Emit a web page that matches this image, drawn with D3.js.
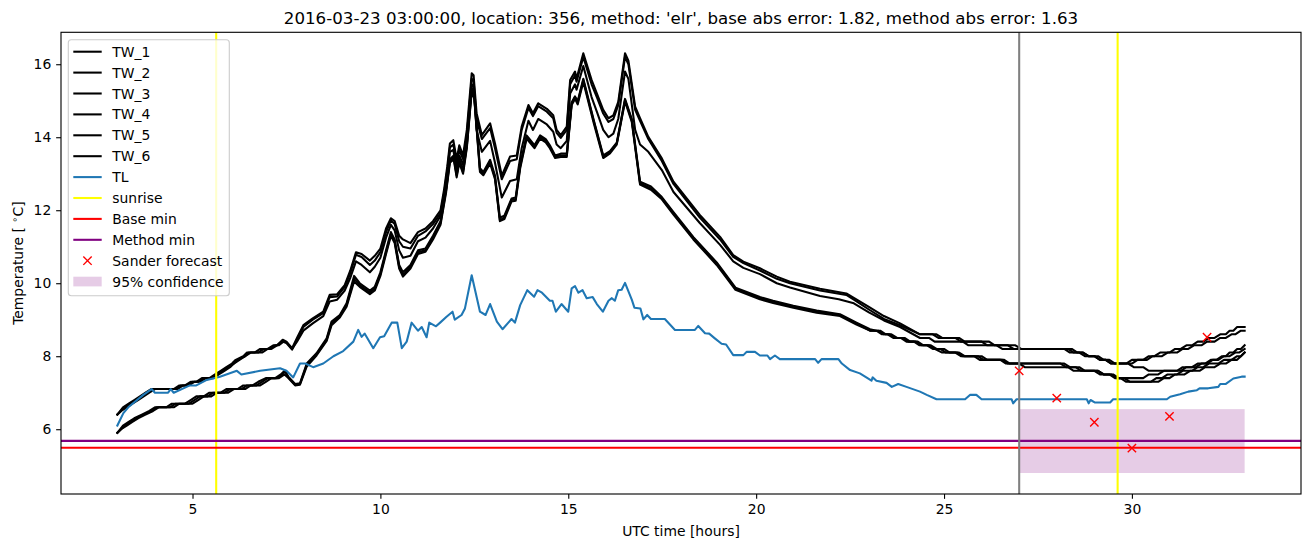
<!DOCTYPE html>
<html><head><meta charset="utf-8">
<script src="https://cdn.jsdelivr.net/npm/d3@7"></script>
<style>
body{margin:0;background:#fff;}
text{font-family:"DejaVu Sans",sans-serif;}
</style></head>
<body><svg id="chart" width="1311" height="547"></svg>
<script>
// ---------------- data ----------------
const titleText = "2016-03-23 03:00:00, location: 356, method: 'elr', base abs error: 1.82, method abs error: 1.63";
const xTicks = [5, 10, 15, 20, 25, 30];
const yTicks = [6, 8, 10, 12, 14, 16];

const TW_1 = [[3.0,6.4],[3.15,6.6],[3.3,6.7],[3.45,6.8],[3.6,6.9],[3.75,7.0],[3.9,7.1],[4.5,7.1],[4.65,7.2],[4.8,7.2],[4.95,7.3],[5.1,7.3],[5.25,7.4],[5.45,7.4],[5.6,7.5],[5.75,7.6],[5.9,7.7],[6.05,7.8],[6.15,7.9],[6.35,8.0],[6.45,8.1],[6.65,8.1],[6.8,8.2],[7.0,8.2],[7.15,8.3],[7.25,8.3],[7.4,8.45],[7.5,8.4],[7.65,8.22],[7.78,8.5],[7.95,8.85],[8.2,9.04],[8.48,9.22],[8.65,9.68],[8.85,9.7],[9.05,9.95],[9.2,10.35],[9.35,10.85],[9.5,10.8],[9.72,10.62],[9.85,10.75],[10.0,10.95],[10.15,11.5],[10.28,11.78],[10.38,11.7],[10.5,11.3],[10.6,11.2],[10.8,11.1],[11.0,11.4],[11.2,11.5],[11.4,11.7],[11.6,12.0],[11.7,12.6],[11.78,13.2],[11.85,13.83],[11.94,13.92],[12.03,13.4],[12.1,13.78],[12.2,13.5],[12.3,14.2],[12.43,15.75],[12.48,15.7],[12.56,14.66],[12.7,14.06],[12.92,14.38],[13.05,13.83],[13.23,12.95],[13.45,13.47],[13.63,13.5],[13.76,14.29],[13.94,14.88],[14.06,14.66],[14.2,14.93],[14.43,14.78],[14.6,14.6],[14.69,14.2],[14.8,14.06],[14.96,14.29],[15.05,15.57],[15.18,15.8],[15.22,15.6],[15.4,16.3],[15.62,15.57],[15.76,15.2],[15.93,14.75],[16.07,14.52],[16.2,14.6],[16.33,14.97],[16.51,16.3],[16.6,16.1],[16.78,14.84],[16.91,14.52],[17.13,14.01],[17.49,13.42],[17.8,12.78],[18.5,11.87],[19.04,11.27],[19.39,10.77],[19.66,10.59],[20.1,10.41],[20.55,10.18],[20.9,10.04],[21.7,9.85],[22.4,9.72],[22.6,9.6],[23.0,9.35],[23.4,9.1],[23.83,8.9],[24.36,8.6],[24.7,8.6],[24.85,8.5],[25.3,8.5],[25.45,8.4],[26.0,8.4],[26.15,8.3],[26.7,8.3],[26.85,8.2],[28.3,8.2],[28.45,8.1],[28.6,8.1],[28.75,8.0],[29.0,8.0],[29.15,7.9],[29.3,7.9],[29.45,7.8],[29.85,7.8],[30.0,7.9],[30.3,7.9],[30.45,8.0],[30.6,8.0],[30.75,8.1],[31.0,8.1],[31.15,8.2],[31.3,8.2],[31.45,8.3],[31.6,8.3],[31.75,8.4],[31.9,8.4],[32.05,8.5],[32.2,8.5],[32.35,8.6],[32.5,8.6],[32.6,8.7],[32.7,8.7],[32.8,8.8],[33.0,8.8]];
const TW_2 = [[3.0,6.4],[3.2,6.6],[3.35,6.7],[3.5,6.8],[3.65,6.9],[3.8,7.0],[3.95,7.1],[4.55,7.1],[4.7,7.2],[4.85,7.2],[5.0,7.3],[5.15,7.3],[5.3,7.4],[5.5,7.4],[5.65,7.5],[5.8,7.6],[5.95,7.7],[6.1,7.8],[6.2,7.9],[6.4,8.0],[6.5,8.1],[6.75,8.1],[6.9,8.2],[7.05,8.2],[7.2,8.3],[7.3,8.3],[7.42,8.4],[7.5,8.36],[7.65,8.18],[7.78,8.45],[7.95,8.8],[8.2,9.0],[8.48,9.18],[8.65,9.62],[8.85,9.64],[9.05,9.9],[9.2,10.28],[9.35,10.78],[9.5,10.72],[9.72,10.5],[9.85,10.62],[10.0,10.85],[10.15,11.4],[10.28,11.72],[10.38,11.62],[10.5,11.15],[10.6,11.0],[10.8,10.95],[11.0,11.3],[11.2,11.42],[11.4,11.62],[11.6,11.92],[11.7,12.5],[11.78,13.1],[11.85,13.72],[11.94,13.8],[12.03,13.3],[12.1,13.65],[12.2,13.4],[12.3,14.05],[12.43,15.6],[12.48,15.55],[12.56,14.5],[12.7,13.95],[12.92,14.25],[13.05,13.7],[13.23,12.85],[13.45,13.35],[13.63,13.4],[13.76,14.2],[13.94,14.8],[14.06,14.58],[14.2,14.85],[14.43,14.7],[14.6,14.52],[14.69,14.12],[14.8,13.98],[14.96,14.2],[15.05,15.45],[15.18,15.7],[15.22,15.52],[15.4,16.2],[15.62,15.45],[15.76,15.1],[15.93,14.65],[16.07,14.42],[16.2,14.5],[16.33,14.88],[16.51,16.2],[16.6,16.0],[16.78,14.75],[16.91,14.45],[17.13,13.95],[17.49,13.35],[17.8,12.72],[18.5,11.8],[19.04,11.2],[19.39,10.72],[19.66,10.55],[20.1,10.35],[20.55,10.12],[20.9,10.0],[21.7,9.8],[22.4,9.68],[22.6,9.55],[23.0,9.28],[23.4,9.02],[23.83,8.85],[24.36,8.6],[24.8,8.6],[24.95,8.5],[25.4,8.5],[25.55,8.4],[26.2,8.4],[26.35,8.3],[26.9,8.3],[27.05,8.2],[28.2,8.2],[28.35,8.1],[28.7,8.1],[28.85,8.0],[29.1,8.0],[29.25,7.9],[29.4,7.9],[29.55,7.8],[30.0,7.8],[30.15,7.9],[30.4,7.9],[30.55,8.0],[30.8,8.0],[30.95,8.1],[31.2,8.1],[31.35,8.2],[31.5,8.2],[31.65,8.3],[31.85,8.3],[32.0,8.4],[32.2,8.4],[32.35,8.5],[32.5,8.5],[32.65,8.6],[32.75,8.6],[32.9,8.7],[33.0,8.7]];
const TW_3 = [[3.0,6.4],[3.1,6.5],[3.25,6.6],[3.4,6.7],[3.55,6.8],[3.7,6.9],[3.85,7.0],[4.0,7.1],[4.6,7.1],[4.75,7.2],[4.9,7.2],[5.05,7.3],[5.2,7.3],[5.35,7.4],[5.55,7.4],[5.7,7.5],[5.85,7.6],[6.0,7.7],[6.1,7.8],[6.25,7.9],[6.4,8.0],[6.55,8.1],[6.85,8.1],[7.0,8.2],[7.1,8.2],[7.25,8.3],[7.38,8.4],[7.5,8.38],[7.65,8.2],[7.78,8.4],[7.95,8.7],[8.2,8.9],[8.48,9.1],[8.65,9.5],[8.85,9.55],[9.05,9.8],[9.2,10.15],[9.35,10.6],[9.5,10.5],[9.72,10.3],[9.85,10.45],[10.0,10.7],[10.15,11.25],[10.28,11.6],[10.38,11.45],[10.5,10.9],[10.6,10.7],[10.8,10.75],[11.0,11.15],[11.2,11.25],[11.4,11.5],[11.6,11.85],[11.7,12.4],[11.78,12.95],[11.85,13.6],[11.94,13.65],[12.03,13.15],[12.1,13.5],[12.2,13.25],[12.3,13.9],[12.43,15.45],[12.48,15.4],[12.56,14.2],[12.7,13.6],[12.92,13.9],[13.05,13.3],[13.23,12.35],[13.45,12.8],[13.63,12.85],[13.76,13.7],[13.94,14.45],[14.06,14.2],[14.2,14.5],[14.43,14.35],[14.6,14.15],[14.69,13.8],[14.8,13.7],[14.96,13.9],[15.05,15.2],[15.18,15.45],[15.22,15.3],[15.4,15.95],[15.62,15.1],[15.76,14.7],[15.93,14.2],[16.07,14.0],[16.2,14.1],[16.33,14.5],[16.51,15.8],[16.6,15.6],[16.78,14.2],[16.91,13.8],[17.13,13.6],[17.49,13.1],[17.8,12.5],[18.5,11.65],[19.04,11.05],[19.39,10.6],[19.66,10.42],[20.1,10.25],[20.55,10.0],[20.9,9.88],[21.7,9.65],[22.2,9.56],[22.6,9.45],[23.0,9.2],[23.4,8.98],[23.83,8.8],[24.36,8.5],[24.6,8.5],[24.75,8.4],[25.5,8.4],[25.65,8.3],[26.4,8.3],[26.55,8.2],[28.4,8.2],[28.55,8.1],[28.7,8.1],[28.85,8.0],[29.0,8.0],[29.15,7.9],[29.3,7.9],[29.45,7.8],[29.9,7.8],[30.05,7.7],[30.3,7.7],[30.45,7.6],[31.2,7.6],[31.35,7.7],[31.6,7.7],[31.75,7.8],[31.95,7.8],[32.1,7.9],[32.25,7.9],[32.4,8.0],[32.5,8.0],[32.6,8.1],[32.7,8.1],[32.8,8.2],[32.9,8.2],[33.0,8.3]];
const TW_4 = [[3.0,5.9],[3.15,6.1],[3.3,6.2],[3.45,6.3],[3.65,6.4],[3.85,6.5],[4.0,6.6],[4.3,6.6],[4.45,6.7],[4.8,6.7],[4.95,6.8],[5.1,6.9],[5.3,6.9],[5.45,7.0],[5.75,7.0],[5.9,7.1],[6.2,7.1],[6.35,7.2],[6.6,7.2],[6.75,7.3],[6.95,7.4],[7.2,7.4],[7.35,7.5],[7.45,7.6],[7.55,7.44],[7.73,7.24],[7.86,7.26],[8.04,7.8],[8.3,8.08],[8.57,8.49],[8.7,8.95],[8.92,9.13],[9.1,9.45],[9.3,10.2],[9.45,10.0],[9.72,9.8],[9.85,9.9],[10.0,10.3],[10.15,10.9],[10.28,11.4],[10.38,11.2],[10.5,10.5],[10.6,10.3],[10.8,10.5],[11.0,10.9],[11.2,10.95],[11.4,11.3],[11.6,11.7],[11.75,12.6],[11.85,13.4],[11.95,13.5],[12.03,13.0],[12.1,13.4],[12.2,13.1],[12.3,13.8],[12.43,15.35],[12.5,15.15],[12.65,13.15],[12.74,13.05],[12.92,13.38],[13.05,12.95],[13.18,11.8],[13.3,11.85],[13.49,12.32],[13.6,12.35],[13.72,13.25],[13.89,14.05],[14.1,13.78],[14.25,14.05],[14.4,13.95],[14.51,13.78],[14.65,13.5],[14.8,13.55],[14.96,13.55],[15.09,14.95],[15.18,15.12],[15.25,14.98],[15.4,15.6],[15.67,14.5],[15.93,13.5],[16.11,13.62],[16.29,13.85],[16.51,15.05],[16.69,14.5],[16.91,12.78],[17.2,12.65],[17.49,12.36],[17.8,11.95],[18.33,11.26],[18.95,10.57],[19.45,9.88],[20.1,9.62],[20.45,9.52],[20.99,9.38],[21.61,9.25],[22.23,9.15],[22.67,8.92],[23.03,8.74],[23.2,8.7],[23.35,8.6],[23.5,8.6],[23.65,8.5],[23.85,8.5],[24.0,8.4],[24.2,8.4],[24.35,8.3],[24.55,8.3],[24.7,8.2],[24.9,8.2],[25.05,8.1],[25.3,8.1],[25.45,8.0],[25.8,8.0],[25.95,7.9],[26.5,7.9],[26.65,7.8],[28.2,7.8],[28.35,7.7],[28.6,7.7],[28.75,7.6],[29.1,7.6],[29.25,7.5],[29.5,7.5],[29.65,7.4],[30.3,7.4],[30.45,7.5],[30.7,7.5],[30.85,7.6],[31.3,7.6],[31.45,7.7],[31.7,7.7],[31.85,7.8],[32.0,7.8],[32.15,7.9],[32.3,7.9],[32.45,8.0],[32.6,8.0],[32.75,8.1],[32.85,8.1],[33.0,8.2]];
const TW_5 = [[3.0,5.9],[3.2,6.1],[3.35,6.2],[3.5,6.3],[3.7,6.4],[3.9,6.5],[4.05,6.6],[4.4,6.6],[4.55,6.7],[4.9,6.7],[5.05,6.8],[5.2,6.9],[5.4,6.9],[5.55,7.0],[5.85,7.0],[6.0,7.1],[6.3,7.1],[6.45,7.2],[6.7,7.2],[6.85,7.3],[7.0,7.4],[7.25,7.4],[7.4,7.5],[7.47,7.6],[7.55,7.42],[7.73,7.22],[7.86,7.24],[8.04,7.76],[8.3,8.05],[8.57,8.45],[8.7,8.9],[8.92,9.1],[9.1,9.4],[9.3,10.12],[9.45,9.95],[9.72,9.75],[9.85,9.85],[10.0,10.25],[10.15,10.85],[10.28,11.35],[10.38,11.15],[10.5,10.45],[10.6,10.22],[10.8,10.45],[11.0,10.85],[11.2,10.9],[11.4,11.25],[11.6,11.65],[11.75,12.55],[11.85,13.35],[11.95,13.45],[12.03,12.95],[12.1,13.35],[12.2,13.05],[12.3,13.75],[12.43,15.3],[12.5,15.1],[12.65,13.1],[12.74,13.0],[12.92,13.33],[13.05,12.9],[13.18,11.73],[13.3,11.8],[13.49,12.28],[13.6,12.3],[13.72,13.2],[13.89,14.01],[14.1,13.74],[14.25,14.01],[14.4,13.9],[14.51,13.74],[14.65,13.47],[14.8,13.5],[14.96,13.5],[15.09,14.93],[15.18,15.1],[15.25,14.95],[15.4,15.57],[15.67,14.47],[15.93,13.47],[16.11,13.6],[16.29,13.83],[16.51,15.02],[16.69,14.47],[16.91,12.74],[17.2,12.6],[17.49,12.33],[17.8,11.92],[18.33,11.23],[18.95,10.54],[19.45,9.85],[20.1,9.59],[20.45,9.49],[20.99,9.36],[21.61,9.22],[22.23,9.13],[22.67,8.9],[23.03,8.7],[23.25,8.7],[23.4,8.6],[23.55,8.6],[23.7,8.5],[23.9,8.5],[24.05,8.4],[24.25,8.4],[24.4,8.3],[24.6,8.3],[24.75,8.2],[24.95,8.1],[25.4,8.1],[25.55,8.0],[25.9,8.0],[26.05,7.9],[26.6,7.9],[26.75,7.8],[28.1,7.8],[28.25,7.7],[28.5,7.7],[28.65,7.6],[29.0,7.6],[29.15,7.5],[29.4,7.5],[29.55,7.4],[29.8,7.4],[29.95,7.3],[30.5,7.3],[30.65,7.4],[30.8,7.4],[30.95,7.5],[31.2,7.5],[31.35,7.6],[31.6,7.6],[31.75,7.7],[31.9,7.7],[32.05,7.8],[32.3,7.8],[32.45,7.9],[32.65,7.9],[32.8,8.0],[32.9,8.0],[33.0,8.1]];
const TW_6 = [[3.0,5.9],[3.1,6.0],[3.25,6.1],[3.4,6.2],[3.55,6.3],[3.75,6.4],[3.95,6.5],[4.1,6.6],[4.5,6.6],[4.65,6.7],[5.0,6.7],[5.15,6.8],[5.3,6.9],[5.5,6.9],[5.65,7.0],[5.95,7.0],[6.1,7.1],[6.4,7.1],[6.55,7.2],[6.8,7.2],[6.95,7.3],[7.1,7.4],[7.3,7.4],[7.45,7.5],[7.55,7.4],[7.73,7.2],[7.86,7.22],[8.04,7.72],[8.3,8.02],[8.57,8.42],[8.7,8.85],[8.92,9.06],[9.1,9.36],[9.3,10.05],[9.45,9.9],[9.72,9.7],[9.85,9.8],[10.0,10.2],[10.15,10.8],[10.28,11.3],[10.38,11.1],[10.5,10.4],[10.6,10.18],[10.8,10.4],[11.0,10.8],[11.2,10.86],[11.4,11.2],[11.6,11.6],[11.75,12.5],[11.85,13.3],[11.95,13.4],[12.03,12.9],[12.1,13.3],[12.2,13.0],[12.3,13.7],[12.43,15.25],[12.5,15.05],[12.65,13.05],[12.74,12.96],[12.92,13.28],[13.05,12.85],[13.18,11.7],[13.3,11.76],[13.49,12.24],[13.6,12.26],[13.72,13.15],[13.89,13.96],[14.1,13.7],[14.25,13.96],[14.4,13.86],[14.51,13.7],[14.65,13.43],[14.8,13.46],[14.96,13.46],[15.09,14.88],[15.18,15.05],[15.25,14.9],[15.4,15.52],[15.67,14.42],[15.93,13.43],[16.11,13.56],[16.29,13.8],[16.51,14.98],[16.69,14.42],[16.91,12.7],[17.2,12.56],[17.49,12.3],[17.8,11.88],[18.33,11.2],[18.95,10.5],[19.45,9.82],[20.1,9.56],[20.45,9.46],[20.99,9.33],[21.61,9.19],[22.23,9.1],[22.67,8.87],[23.03,8.7],[23.3,8.7],[23.45,8.6],[23.6,8.6],[23.75,8.5],[23.95,8.5],[24.1,8.4],[24.3,8.4],[24.45,8.3],[24.65,8.3],[24.8,8.2],[25.0,8.2],[25.15,8.1],[25.35,8.1],[25.5,8.0],[26.0,8.0],[26.15,7.9],[26.55,7.9],[26.7,7.8],[27.0,7.8],[27.15,7.7],[28.3,7.7],[28.45,7.6],[29.1,7.6],[29.25,7.5],[29.45,7.5],[29.6,7.4],[29.7,7.4],[29.85,7.3],[30.7,7.3],[30.85,7.4],[31.0,7.4],[31.15,7.5],[31.4,7.5],[31.55,7.6],[31.8,7.6],[31.95,7.7],[32.2,7.7],[32.35,7.8],[32.5,7.8],[32.65,7.9],[32.8,7.9],[32.9,8.0],[33.0,8.1]];
const TL = [[3.0,6.1],[3.16,6.44],[3.29,6.6],[3.69,6.94],[3.91,7.1],[4.0,7.0],[4.35,7.0],[4.42,7.1],[4.5,7.0],[4.93,7.2],[5.1,7.2],[5.38,7.35],[5.73,7.44],[6.18,7.6],[6.3,7.5],[6.8,7.6],[7.33,7.67],[7.5,7.6],[7.68,7.42],[7.86,7.8],[8.0,7.8],[8.21,7.7],[8.48,7.8],[8.75,8.0],[9.01,8.14],[9.28,8.4],[9.41,8.72],[9.5,8.53],[9.58,8.62],[9.81,8.22],[9.99,8.52],[10.1,8.55],[10.3,8.92],[10.45,8.92],[10.57,8.22],[10.7,8.4],[10.83,8.92],[11.0,8.7],[11.1,8.8],[11.23,8.52],[11.3,8.92],[11.48,8.82],[11.59,8.92],[11.76,9.08],[11.92,9.22],[11.98,9.0],[12.16,9.13],[12.25,9.31],[12.43,10.22],[12.65,9.22],[12.8,9.13],[12.92,9.43],[13.1,8.95],[13.25,8.74],[13.49,9.02],[13.58,8.92],[13.72,9.4],[13.91,9.81],[14.09,9.63],[14.18,9.81],[14.3,9.74],[14.51,9.52],[14.58,9.52],[14.67,9.22],[14.82,9.43],[15.0,9.22],[15.09,9.86],[15.18,9.92],[15.27,9.74],[15.38,9.81],[15.49,9.59],[15.65,9.62],[15.76,9.43],[15.92,9.22],[16.07,9.52],[16.16,9.59],[16.24,9.52],[16.33,9.81],[16.42,9.82],[16.51,10.01],[16.69,9.55],[16.76,9.33],[16.92,9.31],[17.0,9.01],[17.1,9.13],[17.2,9.02],[17.57,9.02],[17.84,8.72],[18.37,8.72],[18.46,8.83],[18.64,8.63],[18.75,8.62],[18.9,8.49],[19.08,8.34],[19.2,8.32],[19.39,8.03],[19.66,8.03],[19.75,8.12],[19.97,8.12],[20.1,8.02],[20.3,8.02],[20.37,7.92],[20.5,8.02],[20.63,7.92],[21.57,7.92],[21.65,7.82],[21.74,7.92],[22.19,7.92],[22.28,7.8],[22.5,7.62],[22.76,7.53],[22.9,7.44],[23.07,7.33],[23.1,7.42],[23.2,7.33],[23.47,7.27],[23.61,7.16],[23.78,7.24],[24.0,7.16],[24.36,7.03],[24.54,6.94],[24.8,6.82],[25.56,6.82],[25.69,6.94],[25.86,6.94],[26.0,6.82],[26.8,6.82],[26.84,6.71],[26.93,6.82],[28.8,6.82],[28.85,6.71],[28.9,6.8],[29.02,6.73],[29.42,6.73],[29.5,6.82],[30.93,6.82],[31.02,6.89],[31.28,6.96],[31.5,7.03],[31.73,7.07],[31.8,7.12],[32.03,7.12],[32.3,7.16],[32.35,7.24],[32.5,7.24],[32.7,7.39],[32.92,7.44],[33.0,7.44]];

const sunriseHours = [5.63, 29.62];
const forecastStart = 27;
const baseMin = 5.49;
const methodMin = 5.68;
const sanderHours = [27, 28, 29, 30, 31, 32];
const sanderValues = [7.6, 6.85, 6.19, 5.48, 6.35, 8.52];
const confHours = [27, 33];
const confLow = 4.8;
const confHigh = 6.55;

const legendLabels = ["TW_1","TW_2","TW_3","TW_4","TW_5","TW_6","TL","sunrise","Base min","Method min","Sander forecast","95% confidence"];

// ---------------- layout ----------------
const L = 61, R = 1301, T = 32.3, B = 494;
const LW = 2.08, FS = "13.9px";
const svg = d3.select("#chart");
const x = d3.scaleLinear().domain([1.5, 34.5]).range([L, R]);
const y = d3.scaleLinear().domain([4.225, 16.875]).range([B, T]);

svg.append("defs").append("clipPath").attr("id","clip")
  .append("rect").attr("x",L).attr("y",T).attr("width",R-L).attr("height",B-T);
const g = svg.append("g").attr("clip-path","url(#clip)");

// confidence band
g.append("rect")
  .attr("x", x(confHours[0])).attr("width", x(confHours[1]) - x(confHours[0]))
  .attr("y", y(confHigh)).attr("height", y(confLow) - y(confHigh))
  .attr("fill", "purple").attr("fill-opacity", 0.2);

const line = d3.line().x(d => x(d[0])).y(d => y(d[1]));
[TW_1, TW_2, TW_3, TW_4, TW_5, TW_6].forEach(s => {
  g.append("path").attr("d", line(s)).attr("fill","none").attr("stroke","#000")
    .attr("stroke-width",LW).attr("stroke-linejoin","round").attr("stroke-linecap","square");
});
g.append("path").attr("d", line(TL)).attr("fill","none").attr("stroke","#1f77b4")
  .attr("stroke-width",LW).attr("stroke-linejoin","round").attr("stroke-linecap","square");

sunriseHours.forEach(h => {
  g.append("line").attr("x1",x(h)).attr("x2",x(h)).attr("y1",T).attr("y2",B)
    .attr("stroke","#ffff00").attr("stroke-width",LW);
});
g.append("line").attr("x1",L).attr("x2",R).attr("y1",y(baseMin)).attr("y2",y(baseMin))
  .attr("stroke","#ff0000").attr("stroke-width",LW);
g.append("line").attr("x1",L).attr("x2",R).attr("y1",y(methodMin)).attr("y2",y(methodMin))
  .attr("stroke","#800080").attr("stroke-width",LW);
g.append("line").attr("x1",x(forecastStart)).attr("x2",x(forecastStart)).attr("y1",T).attr("y2",B)
  .attr("stroke","#808080").attr("stroke-width",LW);

const xm = 4.17;
sanderHours.forEach((h,i) => {
  const cx = x(h), cy = y(sanderValues[i]);
  g.append("path").attr("d", `M${cx-xm},${cy-xm}L${cx+xm},${cy+xm}M${cx-xm},${cy+xm}L${cx+xm},${cy-xm}`)
    .attr("stroke","#ff0000").attr("stroke-width",1.39).attr("fill","none");
});

// axes
const xAxis = d3.axisBottom(x).tickValues(xTicks).tickSize(4.86).tickPadding(4.86);
const yAxis = d3.axisLeft(y).tickValues(yTicks).tickSize(4.86).tickPadding(4.86);
const gx = svg.append("g").attr("transform",`translate(0,${B})`).call(xAxis);
const gy = svg.append("g").attr("transform",`translate(${L},0)`).call(yAxis);
[gx, gy].forEach(a => {
  a.select(".domain").remove();
  a.selectAll(".tick line").attr("stroke","#000").attr("stroke-width",1.11);
  a.selectAll(".tick text").attr("fill","#000").style("font-size",FS)
    .style("font-family","'DejaVu Sans', sans-serif");
});
svg.append("rect").attr("x",L).attr("y",T).attr("width",R-L).attr("height",B-T)
  .attr("fill","none").attr("stroke","#000").attr("stroke-width",1.11);

// labels
svg.append("text").attr("x",(L+R)/2).attr("y",24).attr("text-anchor","middle")
  .style("font-size","16.67px").text(titleText);
svg.append("text").attr("x",(L+R)/2).attr("y",535.5).attr("text-anchor","middle")
  .style("font-size",FS).text("UTC time [hours]");
const yl = svg.append("text").attr("transform",`translate(22.5,${(T+B)/2}) rotate(-90)`)
  .attr("text-anchor","middle").style("font-size",FS);
yl.append("tspan").text("Temperature [ ");
yl.append("tspan").attr("dy",-5).style("font-size","9.7px").text("∘");
yl.append("tspan").attr("dy",5).text("C]");

// legend
const lg = svg.append("g");
lg.append("rect").attr("x",68.3).attr("y",39.8).attr("width",161).attr("height",256).attr("rx",3)
  .attr("fill","#fff").attr("fill-opacity",0.8).attr("stroke","#cccccc").attr("stroke-width",1.11);
const colors = ["#000","#000","#000","#000","#000","#000","#1f77b4","#ffff00","#ff0000","#800080"];
legendLabels.forEach((lab,i) => {
  const cy = 51.7 + i*20.9;
  if (i < 10) {
    lg.append("line").attr("x1",73.3).attr("x2",101.7).attr("y1",cy).attr("y2",cy)
      .attr("stroke",colors[i]).attr("stroke-width",LW);
  } else if (i === 10) {
    const cx = 87.5;
    lg.append("path").attr("d",`M${cx-xm},${cy-xm}L${cx+xm},${cy+xm}M${cx-xm},${cy+xm}L${cx+xm},${cy-xm}`)
      .attr("stroke","#ff0000").attr("stroke-width",1.39);
  } else {
    lg.append("rect").attr("x",73.3).attr("y",cy-4.9).attr("width",28.4).attr("height",9.7)
      .attr("fill","purple").attr("fill-opacity",0.2);
  }
  lg.append("text").attr("x",112.3).attr("y",cy).attr("dy","0.36em")
    .style("font-size",FS).text(lab);
});
</script></body></html>
